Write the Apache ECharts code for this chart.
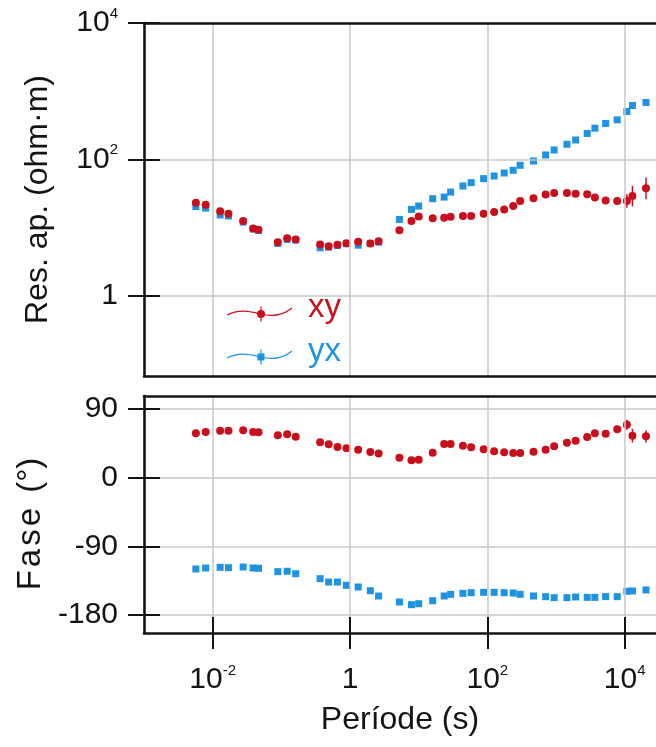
<!DOCTYPE html>
<html>
<head>
<meta charset="utf-8">
<script src="https://cdn.jsdelivr.net/npm/echarts@6/dist/echarts.min.js"></script>
<style>
  html, body { margin: 0; padding: 0; background: #ffffff; }
  #chart { width: 656px; height: 747px; }
</style>
</head>
<body>
<div id="chart"></div>
<script>
// Magnetotelluric sounding: apparent resistivity and phase versus period
const periods = [
  0.00569, 0.00791, 0.01285, 0.01698, 0.0278, 0.0389, 0.0465, 0.0889, 0.1216, 0.1618,
  0.367, 0.489, 0.656, 0.887, 1.315, 1.977, 2.61, 5.24, 7.85, 10.0,
  16.0, 23.5, 29.2, 44.1, 58.1, 88.3, 125.6, 175.8, 237.7, 300.6,
  469.9, 706, 939.8, 1442, 1932, 2844, 3681, 5284, 7780, 10765,
  12970, 20420
];
const rhoXY = [
  23.1, 21.6, 17.2, 15.9, 12.4, 9.67, 9.25, 6.08, 6.96, 6.66,
  5.62, 5.31, 5.57, 5.88, 6.16, 5.82, 6.29, 9.12, 12.4, 14.5,
  13.6, 13.9, 14.4, 14.7, 14.7, 15.9, 16.8, 18.4, 20.6, 24.4,
  26.7, 30.3, 31.9, 31.9, 31.3, 30.6, 27.6, 24.9, 24.4, 24.4,
  28.8, 37.5
];
const rhoYX = [
  20.2, 19.2, 15.2, 14.7, 12.0, 9.5, 9.03, 5.82, 6.66, 6.55,
  5.03, 5.13, 5.44, 5.76, 5.49, 5.82, 6.08, 13.1, 18.4, 20.6,
  26.4, 27.9, 33.0, 40.5, 45.4, 52.0, 56.8, 62.9, 68.9, 81.6,
  94.4, 115.7, 137, 166, 192, 239, 286, 335, 379, 503,
  616, 682
];
const phaseXY = [
  58.1, 59.8, 61.6, 61.6, 62.1, 59.8, 59.4, 55.5, 56.8, 53.7,
  46.3, 43.7, 40.2, 38.5, 36.7, 33.6, 31.6, 26.0, 22.7, 23.6,
  32.7, 44.1, 44.1, 41.9, 39.8, 37.2, 34.6, 33.2, 32.3, 32.3,
  34.0, 36.7, 41.1, 45.8, 48.4, 53.3, 58.1, 57.6, 63.4, 69.4,
  55.0, 54.2
];
const phaseYX = [
  -119.7, -118.4, -117.5, -118.0, -117.1, -118.4, -118.8, -123.2, -122.7, -125.9,
  -132.4, -136.8, -136.8, -141.1, -143.3, -148.2, -155.1, -163.0, -166.5, -165.2,
  -161.3, -155.1, -152.9, -151.6, -150.8, -150.3, -150.3, -150.8, -151.2, -152.9,
  -155.1, -156.0, -157.3, -157.3, -156.4, -156.9, -156.9, -155.9, -156.0, -148.9,
  -148.5, -147.2
];
// error half-widths: resistivity in decades, phase in degrees
const rhoXYErr = [
  0, 0, 0, 0, 0, 0, 0, 0, 0, 0, 0, 0, 0, 0, 0, 0, 0, 0, 0, 0, 0,
  0, 0, 0, 0, 0, 0, 0, 0, 0, 0, 0, 0, 0, 0, 0, 0, 0, 0, 0.1, 0.15, 0.16
];
const phaseXYErr = [
  0, 0, 0, 0, 0, 0, 0, 0, 0, 0, 0, 0, 0, 0, 0, 0, 0, 0, 0, 0, 0,
  0, 0, 0, 0, 0, 0, 0, 0, 0, 0, 0, 0, 0, 0, 0, 0, 0, 0, 6.5, 9, 8
];

const periodTicks = [0.01, 1, 100, 10000];
const rhoTicks = [1, 100, 10000];
const phaseTicks = [-180, -90, 0, 90];

const RED = '#c8101c';
const BLUE = '#1e93e2';
const INK = '#141414';
const GRIDC = '#c9c9c9';
const FONT = '"Liberation Sans", Arial, Helvetica, sans-serif';

const PERIOD_MIN = 1e-3;
const PERIOD_MAX = 28580;
const RHO_MIN = 0.066;
const RHO_MAX = 10000;
const PHASE_MIN = -203.6;
const PHASE_MAX = 107;

const zip = (xs, ys) => xs.map((x, i) => [x, ys[i]]);

const rhoErrBars = [];
rhoXYErr.forEach((e, i) => {
  if (e > 0) rhoErrBars.push([periods[i], rhoXY[i] / Math.pow(10, e), rhoXY[i] * Math.pow(10, e)]);
});
const phaseErrBars = [];
phaseXYErr.forEach((e, i) => {
  if (e > 0) phaseErrBars.push([periods[i], phaseXY[i] - e, phaseXY[i] + e]);
});

function powLabel(v) {
  const exp = Math.round(Math.log10(v));
  if (exp === 0) return '{b|1}';
  return '{b|10}{s|' + exp + '}';
}
const labelRich = {
  b: { fontSize: 30, fontFamily: FONT, color: INK, lineHeight: 34 },
  s: { fontSize: 15, fontFamily: FONT, color: INK, lineHeight: 15, verticalAlign: 'top' }
};
const splitStyle = { show: true, lineStyle: { color: GRIDC, width: 1.5 } };
const tickOut = (vals) => ({ show: true, inside: false, length: 16, lineStyle: { color: INK, width: 2 }, customValues: vals });
const tickIn = (vals) => ({ show: true, inside: true, length: 16, lineStyle: { color: INK, width: 2 }, customValues: vals });
const frameLine = { show: true, onZero: false, lineStyle: { color: INK, width: 2.6 } };
const noLine = { show: false, onZero: false };
const nameStyle = { fontSize: 32, fontFamily: FONT, color: INK };

// phase title is set with a little extra spacing between its letters
const phaseTitle = ['F', 'a', 's', 'e', ' ', '(°)'].map(ch => '{l|' + ch + '}').join('');
const phaseNameStyle = {
  fontSize: 33, fontFamily: FONT, color: INK, padding: [0, 16, 0, 0],
  rich: { l: { fontSize: 33, fontFamily: FONT, color: INK, padding: [0, 3, 0, 0] } }
};

function errorBars(color) {
  return function (params, api) {
    const lo = api.coord([api.value(0), api.value(1)]);
    const hi = api.coord([api.value(0), api.value(2)]);
    return {
      type: 'line',
      shape: { x1: lo[0], y1: lo[1], x2: hi[0], y2: hi[1] },
      style: { stroke: color, lineWidth: 1.5 }
    };
  };
}

// plain x axis used only for drawing a frame edge
function edgeX(grid, pos) {
  return {
    gridIndex: grid, type: 'log', min: PERIOD_MIN, max: PERIOD_MAX, position: pos, z: 6,
    axisLine: frameLine,
    axisTick: { show: false },
    axisLabel: { show: false },
    splitLine: { show: false }
  };
}

const chart = echarts.init(document.getElementById('chart'), null, { renderer: 'canvas' });

chart.setOption({
  animation: false,
  backgroundColor: '#ffffff',
  grid: [
    { left: 144, top: 23, right: 0, height: 353, show: false },
    { left: 144, top: 396, right: 0, height: 237, show: false }
  ],
  xAxis: [
    {
      gridIndex: 0, type: 'log', min: PERIOD_MIN, max: PERIOD_MAX, position: 'bottom', z: 6,
      axisLine: frameLine,
      axisTick: { show: false, customValues: periodTicks },
      axisLabel: { show: false, customValues: periodTicks },
      splitLine: splitStyle
    },
    {
      gridIndex: 1, type: 'log', min: PERIOD_MIN, max: PERIOD_MAX, position: 'bottom', z: 6,
      axisLine: frameLine,
      axisTick: tickOut(periodTicks),
      axisLabel: { customValues: periodTicks, formatter: powLabel, rich: labelRich, margin: 30 },
      splitLine: splitStyle,
      name: 'Període (s)', nameLocation: 'middle', nameGap: 71,
      nameTextStyle: nameStyle
    },
    {
      gridIndex: 1, type: 'log', min: PERIOD_MIN, max: PERIOD_MAX, position: 'bottom', z: 6,
      axisLine: noLine,
      axisTick: tickIn(periodTicks),
      axisLabel: { show: false, customValues: periodTicks },
      splitLine: { show: false }
    },
    edgeX(0, 'top'),
    edgeX(1, 'top')
  ],
  yAxis: [
    {
      gridIndex: 0, type: 'log', min: RHO_MIN, max: RHO_MAX, position: 'left', z: 6,
      axisLine: frameLine,
      axisTick: tickOut(rhoTicks),
      axisLabel: { customValues: rhoTicks, formatter: powLabel, rich: labelRich, margin: 26 },
      splitLine: splitStyle,
      name: 'Res. ap. (ohm·m)', nameLocation: 'middle', nameGap: 90,
      nameTextStyle: nameStyle
    },
    {
      gridIndex: 0, type: 'log', min: RHO_MIN, max: RHO_MAX, position: 'left', z: 6,
      axisLine: noLine,
      axisTick: tickIn(rhoTicks),
      axisLabel: { show: false, customValues: rhoTicks },
      splitLine: { show: false }
    },
    {
      gridIndex: 1, type: 'value', min: PHASE_MIN, max: PHASE_MAX, position: 'left', z: 6,
      axisLine: frameLine,
      axisTick: tickOut(phaseTicks),
      axisLabel: { customValues: phaseTicks, fontSize: 30, fontFamily: FONT, color: INK, margin: 26 },
      splitLine: Object.assign({ customValues: phaseTicks }, splitStyle),
      name: phaseTitle, nameLocation: 'middle', nameGap: 90,
      nameTextStyle: phaseNameStyle
    },
    {
      gridIndex: 1, type: 'value', min: PHASE_MIN, max: PHASE_MAX, position: 'left', z: 6,
      axisLine: noLine,
      axisTick: tickIn(phaseTicks),
      axisLabel: { show: false, customValues: phaseTicks },
      splitLine: { show: false }
    }
  ],
  series: [
    {
      name: 'yx', type: 'scatter', xAxisIndex: 0, yAxisIndex: 0,
      symbol: 'rect', symbolSize: 7, itemStyle: { color: BLUE, opacity: 1 },
      data: zip(periods, rhoYX), z: 3
    },
    {
      name: 'xy err', type: 'custom', xAxisIndex: 0, yAxisIndex: 0,
      renderItem: errorBars(RED), data: rhoErrBars, z: 4
    },
    {
      name: 'xy', type: 'scatter', xAxisIndex: 0, yAxisIndex: 0,
      symbol: 'circle', symbolSize: 8, itemStyle: { color: RED, opacity: 1 },
      data: zip(periods, rhoXY), z: 5
    },
    {
      name: 'yx', type: 'scatter', xAxisIndex: 1, yAxisIndex: 2,
      symbol: 'rect', symbolSize: 7, itemStyle: { color: BLUE, opacity: 1 },
      data: zip(periods, phaseYX), z: 3
    },
    {
      name: 'xy err', type: 'custom', xAxisIndex: 1, yAxisIndex: 2,
      renderItem: errorBars(RED), data: phaseErrBars, z: 4
    },
    {
      name: 'xy', type: 'scatter', xAxisIndex: 1, yAxisIndex: 2,
      symbol: 'circle', symbolSize: 8, itemStyle: { color: RED, opacity: 1 },
      data: zip(periods, phaseXY), z: 5
    }
  ],
  graphic: [
    // legend entry: xy
    { type: 'bezierCurve', shape: { x1: 227, y1: 315, cpx1: 240, cpy1: 308, cpx2: 252, cpy2: 312, x2: 261, y2: 314 }, style: { stroke: RED, lineWidth: 1.2, fill: null } },
    { type: 'bezierCurve', shape: { x1: 261, y1: 314, cpx1: 272, cpy1: 317, cpx2: 282, cpy2: 316, x2: 292, y2: 308 }, style: { stroke: RED, lineWidth: 1.2, fill: null } },
    { type: 'line', shape: { x1: 261, y1: 306.5, x2: 261, y2: 321.5 }, style: { stroke: RED, lineWidth: 1.2 } },
    { type: 'circle', shape: { cx: 261, cy: 314, r: 4 }, style: { fill: RED } },
    { type: 'text', x: 308, y: 308, style: { text: 'xy', font: '33px ' + FONT, fill: RED, verticalAlign: 'middle', align: 'left' } },
    // legend entry: yx
    { type: 'bezierCurve', shape: { x1: 227, y1: 358, cpx1: 240, cpy1: 351, cpx2: 252, cpy2: 355, x2: 261, y2: 357 }, style: { stroke: BLUE, lineWidth: 1.2, fill: null } },
    { type: 'bezierCurve', shape: { x1: 261, y1: 357, cpx1: 272, cpy1: 360, cpx2: 282, cpy2: 359, x2: 292, y2: 351 }, style: { stroke: BLUE, lineWidth: 1.2, fill: null } },
    { type: 'line', shape: { x1: 261, y1: 349.5, x2: 261, y2: 364.5 }, style: { stroke: BLUE, lineWidth: 1.2 } },
    { type: 'rect', shape: { x: 257.5, y: 353.5, width: 7, height: 7 }, style: { fill: BLUE } },
    { type: 'text', x: 308, y: 352, style: { text: 'yx', font: '33px ' + FONT, fill: BLUE, verticalAlign: 'middle', align: 'left' } }
  ]
});
</script>
</body>
</html>
